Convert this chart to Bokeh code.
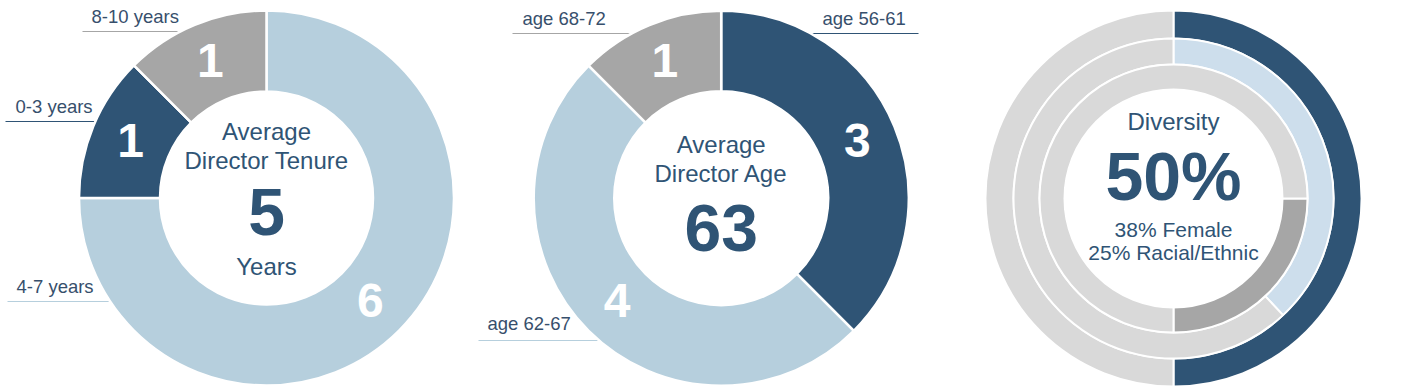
import numpy as np
from bokeh.plotting import figure
from bokeh.models import Range1d
from bokeh.core.properties import value
from bokeh.embed import file_html
from bokeh.resources import INLINE

# ---------------- data ----------------
tenure_labels = ["4-7 years", "0-3 years", "8-10 years"]
tenure_counts = [6, 1, 1]
avg_tenure = "5"

age_labels = ["age 56-61", "age 62-67", "age 68-72"]
age_counts = [3, 4, 1]
avg_age = "63"

diversity_total = 50   # %
female_pct = 38        # %
racial_pct = 25        # %

# ---------------- style ----------------
FONT = "Liberation Sans"
DARK = "#2F5475"
LIGHT = "#B6CFDD"
GREY = "#A6A6A6"
PALE_GREY = "#D9D9D9"
PALE_BLUE = "#CDDEEC"
TXT = "#2F5475"
LBL = "#374F6C"

tenure_colors = [LIGHT, DARK, GREY]
age_colors = [DARK, LIGHT, GREY]

W, H = 1412, 390
p = figure(width=W, height=H, x_range=Range1d(0, W), y_range=Range1d(0, H),
           output_backend="svg", toolbar_location=None, min_border=0,
           background_fill_color="white", border_fill_color="white")
p.axis.visible = False
p.grid.visible = False
p.outline_line_color = None

BASE_CORR = 0.39  # observed offset of rendered baseline (fraction of font size)


def Y(py):
    return H - py


def txt(x, py, s, size, color, bold=False, align="center"):
    # py = desired baseline (pixel row)
    p.text(x=[x], y=[Y(py) + BASE_CORR * size], text=[s], text_font=value(FONT),
           text_font_size=value(f"{size}px"), text_color=color,
           text_align=align, text_baseline="alphabetic",
           text_font_style="bold" if bold else "normal")


def donut(cx, cy, counts, colors, r_in, r_out):
    total = float(sum(counts))
    cum = np.concatenate([[0], np.cumsum(counts)]) / total * 2 * np.pi
    t0, t1 = cum[:-1], cum[1:]
    p.annular_wedge(x=cx, y=Y(cy), inner_radius=r_in - 1, outer_radius=r_out + 1,
                    start_angle=list(np.pi / 2 - t1), end_angle=list(np.pi / 2 - t0),
                    fill_color=colors, line_color="white", line_width=2.5)
    rm = (r_in + r_out) / 2
    mid = (t0 + t1) / 2
    size = 48
    xs = cx + rm * np.sin(mid)
    ys = Y(cy) + rm * np.cos(mid) - 0.358 * size + BASE_CORR * size
    p.text(x=list(xs), y=list(ys), text=[str(c) for c in counts],
           text_font=value(FONT), text_font_size=value(f"{size}px"),
           text_color="white", text_align="center", text_baseline="alphabetic",
           text_font_style="bold")


def leader(x0, x1, py, color):
    p.segment(x0=[x0], y0=[Y(py)], x1=[x1], y1=[Y(py)], line_color=color, line_width=1.2)


# ---------------- chart 1 : tenure ----------------
c1x, c1y = 266, 197.5
leader(82, 200, 31, GREY)
leader(5, 110, 121, DARK)
leader(7, 125, 301, LIGHT)
donut(c1x, c1y, tenure_counts, tenure_colors, 107.5, 186.5)
txt(91, 23, tenure_labels[2], 18.5, LBL, align="left")
txt(15, 113, tenure_labels[1], 18.5, LBL, align="left")
txt(16, 293, tenure_labels[0], 18.5, LBL, align="left")
txt(c1x, 140, "Average", 24, TXT)
txt(c1x, 169, "Director Tenure", 24, TXT)
txt(c1x, 237, avg_tenure, 66, TXT, bold=True)
txt(c1x, 275, "Years", 24, TXT)

# ---------------- chart 2 : age ----------------
c2x, c2y = 720.7, 197.7
leader(512, 650, 33, GREY)
leader(800, 918, 33, DARK)
leader(478, 615, 340, LIGHT)
donut(c2x, c2y, age_counts, age_colors, 108, 186.5)
txt(522, 25, age_labels[2], 18.5, LBL, align="left")
txt(822, 25, age_labels[0], 18.5, LBL, align="left")
txt(487, 330, age_labels[1], 18.5, LBL, align="left")
txt(c2x, 153, "Average", 24, TXT)
txt(c2x, 182, "Director Age", 24, TXT)
txt(c2x, 253, avg_age, 66, TXT, bold=True)

# ---------------- chart 3 : diversity ----------------
c3x, c3y = 1173, 198


def ring(pct0, pct1, r_in, r_out, color):
    a0 = pct0 / 100 * 2 * np.pi
    a1 = pct1 / 100 * 2 * np.pi
    p.annular_wedge(x=c3x, y=Y(c3y), inner_radius=r_in, outer_radius=r_out,
                    start_angle=np.pi / 2 - a1, end_angle=np.pi / 2 - a0,
                    fill_color=color, line_color="white", line_width=2)


# outer ring: total diversity
ring(0, diversity_total, 160, 188, DARK)
ring(diversity_total, 100, 160, 188, PALE_GREY)
# middle ring: female
ring(0, female_pct, 134, 160, PALE_BLUE)
ring(female_pct, 100, 134, 160, PALE_GREY)
# inner ring: racial / ethnic
ring(25, 25 + racial_pct, 109, 134, GREY)
ring(25 + racial_pct, 125, 109, 134, PALE_GREY)

txt(c3x, 130, "Diversity", 24, TXT)
txt(c3x, 202, f"{diversity_total}%", 68, TXT, bold=True)
txt(c3x, 237, f"{female_pct}% Female", 21, TXT)
txt(c3x, 260, f"{racial_pct}% Racial/Ethnic", 21, TXT)

open("out.html", "w").write(file_html(p, INLINE))
